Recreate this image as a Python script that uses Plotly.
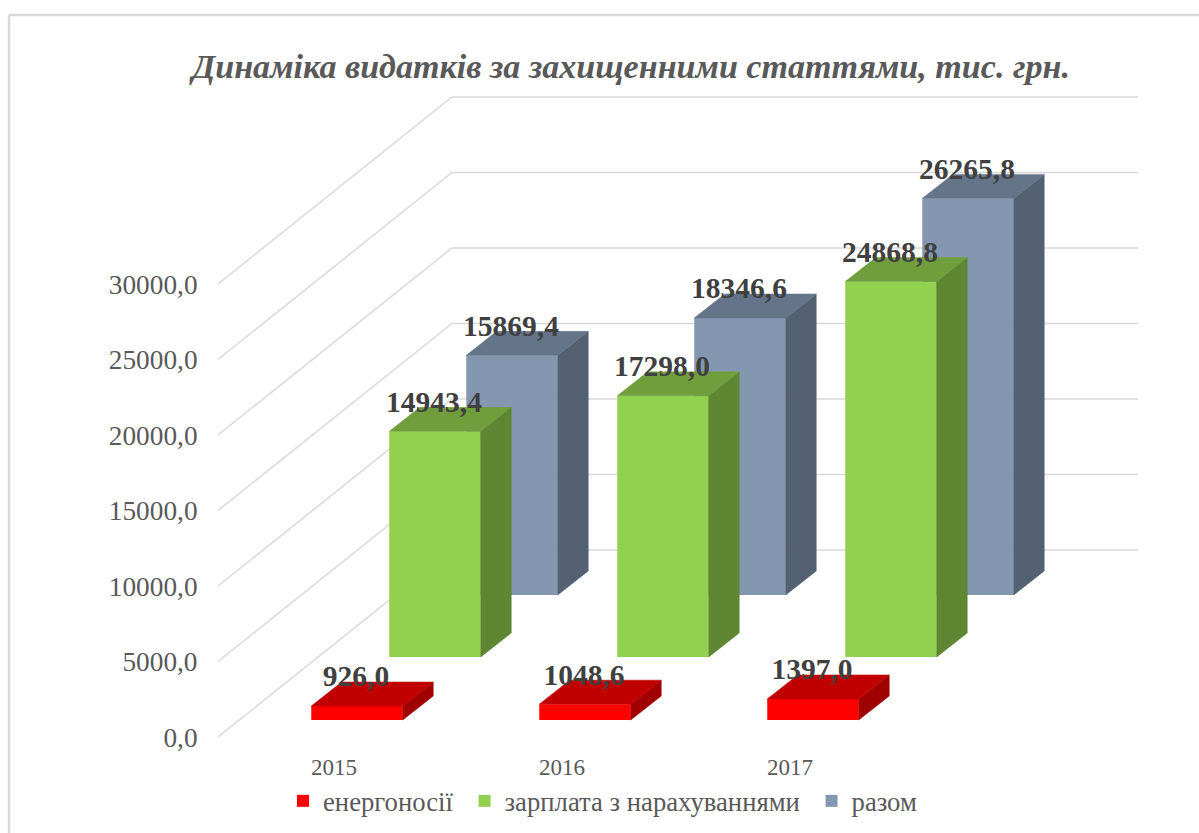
import plotly.graph_objects as go

# ---- data ----
years = [2015, 2016, 2017]
energy = [926.0, 1048.6, 1397.0]
salary = [14943.4, 17298.0, 24868.8]
total = [15869.4, 18346.6, 26265.8]
y_ticks = [0, 5000, 10000, 15000, 20000, 25000, 30000]
y_tick_text = ["0,0", "5000,0", "10000,0", "15000,0", "20000,0", "25000,0", "30000,0"]
names = ["енергоносії", "зарплата з нарахуваннями", "разом"]
title = "Динаміка видатків за захищенними статтями, тис. грн."

# ---- oblique projection (pixels of the page -> axis units) ----
W, H = 1199, 833
L, R, T, B = 218, 1138, 90, 737
PX_Y = 453 / 30000          # pixels per value unit
PX_X = 228                  # pixels per year
X0 = 2015 - (334 - L) / PX_X
X1 = X0 + (R - L) / PX_X
Y1 = (B - T) / PX_Y


def ux(p):
    return p / PX_X


def uy(p):
    return p / PX_Y


bar_w = ux(91.5)
bar_dx, bar_dy = ux(30.5), uy(24)
# front-plane offset of each series: centre shift, floor shift (px)
series = [
    dict(vals=total, name=names[2], shift=(178, 142), front="#8497b0", top="#647489", side="#536172"),
    dict(vals=salary, name=names[1], shift=(101, 80), front="#92d050", top="#709e3d", side="#5f8633"),
    dict(vals=energy, name=names[0], shift=(23, 17), front="#ff0000", top="#c00000", side="#a00000"),
]

fig = go.Figure()

# front faces, real bars
for s in series:
    sx, sy = ux(s["shift"][0]), uy(s["shift"][1])
    fig.add_trace(go.Bar(
        x=[y + sx for y in years], y=s["vals"], base=[sy] * 3, width=bar_w,
        name=s["name"] + "\u00a0", marker=dict(color=s["front"], line=dict(width=0)), hoverinfo="skip",
    ))

# top and side faces
for s in series:
    sx, sy = ux(s["shift"][0]), uy(s["shift"][1])
    sidex, sidey, topx, topy = [], [], [], []
    for yr, v in zip(years, s["vals"]):
        xl = yr + sx - bar_w / 2
        xr = yr + sx + bar_w / 2
        t = sy + v
        sidex += [xr, xr + bar_dx, xr + bar_dx, xr, xr, None]
        sidey += [sy, sy + bar_dy, t + bar_dy, t, sy, None]
        topx += [xl, xr, xr + bar_dx, xl + bar_dx, xl, None]
        topy += [t, t, t + bar_dy, t + bar_dy, t, None]
    for xs, ys, c in ((sidex, sidey, s["side"]), (topx, topy, s["top"])):
        fig.add_trace(go.Scatter(
            x=xs, y=ys, mode="lines", fill="toself", fillcolor=c,
            line=dict(color=c, width=0.5), showlegend=False, hoverinfo="skip",
        ))

# data labels
for s in series:
    sx, sy = ux(s["shift"][0] - 1), uy(s["shift"][1])
    fig.add_trace(go.Scatter(
        x=[y + sx for y in years], y=[sy + v + uy(27) for v in s["vals"]],
        mode="text", text=[f"{v:.1f}".replace(".", ",") for v in s["vals"]],
        textposition="middle center",
        textfont=dict(family="Liberation Serif", size=29.5, color="#404040", weight="bold"),
        showlegend=False, hoverinfo="skip",
    ))

# floor-to-wall grid
wall_dx, wall_dy = ux(234), uy(187)
shapes = []
for v in y_ticks:
    shapes.append(dict(
        type="path", xref="x", yref="y", layer="below",
        path=f"M {X0},{v} L {X0 + wall_dx},{v + wall_dy} L {X1},{v + wall_dy}",
        line=dict(color="#d9d9d9", width=1.5),
    ))
# chart frame (left and top edges only are in view)
def px(p):
    return (p - L) / (R - L)


def py(p):
    return (B - p) / (B - T)


shapes.append(dict(type="line", xref="paper", yref="paper", x0=px(9), x1=px(9), y0=py(15), y1=py(H),
                   line=dict(color="#d9d9d9", width=2.5)))
shapes.append(dict(type="line", xref="paper", yref="paper", x0=px(9), x1=px(W), y0=py(15), y1=py(15),
                   line=dict(color="#d9d9d9", width=2.5)))

fig.update_layout(
    width=W, height=H, margin=dict(l=L, r=W - R, t=T, b=H - B, autoexpand=False),
    paper_bgcolor="white", plot_bgcolor="white",
    barmode="overlay", shapes=shapes,
    font=dict(family="Liberation Serif", color="#595959"),
    title=dict(text=title, x=631 / W, xanchor="center", y=1 - 66 / H, yanchor="middle",
               font=dict(family="Liberation Serif", size=34.1, color="#595959", weight="bold", style="italic")),
    xaxis=dict(range=[X0, X1], tickmode="array", tickvals=years, ticktext=[str(y) for y in years],
               showgrid=False, zeroline=False, showline=False, ticks="outside", ticklen=9,
               tickcolor="rgba(0,0,0,0)", tickfont=dict(size=23, color="#595959"), automargin=False),
    yaxis=dict(range=[0, Y1], tickmode="array", tickvals=y_ticks, ticktext=y_tick_text,
               showgrid=False, zeroline=False, showline=False, ticks="outside", ticklen=14,
               tickcolor="rgba(0,0,0,0)", tickfont=dict(size=27.3, color="#595959"), automargin=False),
    legend=dict(orientation="h", traceorder="reversed", x=px(283), xanchor="left", y=py(801), yanchor="middle",
                font=dict(size=26.7, color="#595959"), itemwidth=30, bgcolor="rgba(0,0,0,0)"),
)

fig.write_html("out.html", config=dict(displayModeBar=False), post_script="document.body.style.margin='0';")
